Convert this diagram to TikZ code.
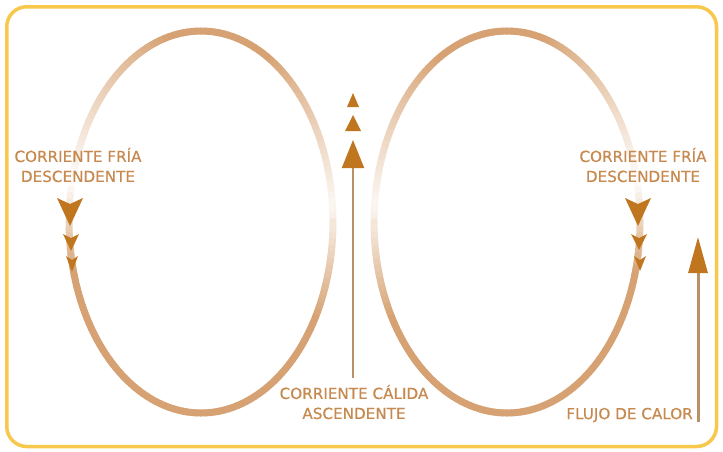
\documentclass[tikz,border=0pt]{standalone}
\usepackage{fontspec}
\setmainfont{DejaVu Sans}
\newfontfamily\lblfont{DejaVu Sans}[FakeBold=0.6]
\usetikzlibrary{arrows.meta}
\definecolor{framecol}{HTML}{F7C84B}
\definecolor{flow}{HTML}{D6A273}
\definecolor{head}{HTML}{C0751F}
\definecolor{shaft}{HTML}{B98F68}
\definecolor{labelcol}{HTML}{C68A50}
\begin{document}
\begin{tikzpicture}[x=1pt,y=-1pt,
  lbl/.style={text=labelcol, font=\lblfont\fontsize{15.2}{20}\selectfont, align=center, inner sep=0pt},
  tipfill/.style={fill=head, draw=none},
  ring/.style={line width=7pt, line cap=round}]
\useasboundingbox (0,0) rectangle (723,451);
\draw[framecol, line width=3.5pt, rounded corners=20pt] (6.75,6.75) rectangle (716.5,446.5);

% fading convection cells
\foreach \a in {0,2,...,358}{
  \pgfmathsetmacro{\u}{\a<5 ? \a+360 : \a}
  \pgfmathsetmacro{\f}{ifthenelse(\u<60, 0.08+0.92*(\u-5)/55,
     ifthenelse(\u<105, 1,
     ifthenelse(\u<168, 1-0.97*(\u-105)/63,
     ifthenelse(\u<195, 0.03+0.97*(\u-168)/27,
     ifthenelse(\u<330, 1, 1-0.92*(\u-330)/35)))))}
  \pgfmathsetmacro{\p}{100*\f}
  \pgfmathsetmacro{\b}{\a+2}
  \draw[ring, flow!\p!white] ({201+132*cos(\a)},{222-191*sin(\a)}) -- ({201+132*cos(\b)},{222-191*sin(\b)});
  \draw[ring, flow!\p!white] ({507-133*cos(\a)},{222-191*sin(\a)}) -- ({507-133*cos(\b)},{222-191*sin(\b)});
}

% arrowheads on the cells
\fill[tipfill] (57,198) -- (70,226) -- (83,198) -- (70,204) -- cycle;
\fill[tipfill] (63,234) -- (71,251) -- (79,234) -- (71,238) -- cycle;
\fill[tipfill] (66,256) -- (72,272) -- (78,256) -- (72,260) -- cycle;
\fill[tipfill] (625,198) -- (638,226) -- (651,198) -- (638,204) -- cycle;
\fill[tipfill] (631,234) -- (639,250) -- (647,234) -- (639,238) -- cycle;
\fill[tipfill] (634,256) -- (640,271) -- (646,256) -- (640,260) -- cycle;

% central rising arrow
\coordinate (cbot) at (353,378);
\coordinate (ctop) at (353,140);
\draw[shaft, line width=2pt, -{Triangle[length=28pt,width=22pt,color=head]}] (cbot) -- (ctop);
\fill[tipfill] (353,115) -- (361,131) -- (345,131) -- cycle;
\fill[tipfill] (353,93) -- (359,107) -- (347,107) -- cycle;

% heat flow arrow
\coordinate (fbot) at (698,422);
\coordinate (ftop) at (698,237);
\draw[shaft, line width=3pt, -{Triangle[length=36pt,width=19pt,color=head]}] (fbot) -- (ftop);

% labels
\node[lbl] (coldL) at (78,165) {CORRIENTE FRÍA\\DESCENDENTE};
\node[lbl] (coldR) at (643,165) {CORRIENTE FRÍA\\DESCENDENTE};
\node[lbl] (warm) at (354,402) {CORRIENTE CÁLIDA\\ASCENDENTE};
\node[lbl, anchor=east] (heat) at (693,415) {FLUJO DE CALOR};
\end{tikzpicture}
\end{document}
